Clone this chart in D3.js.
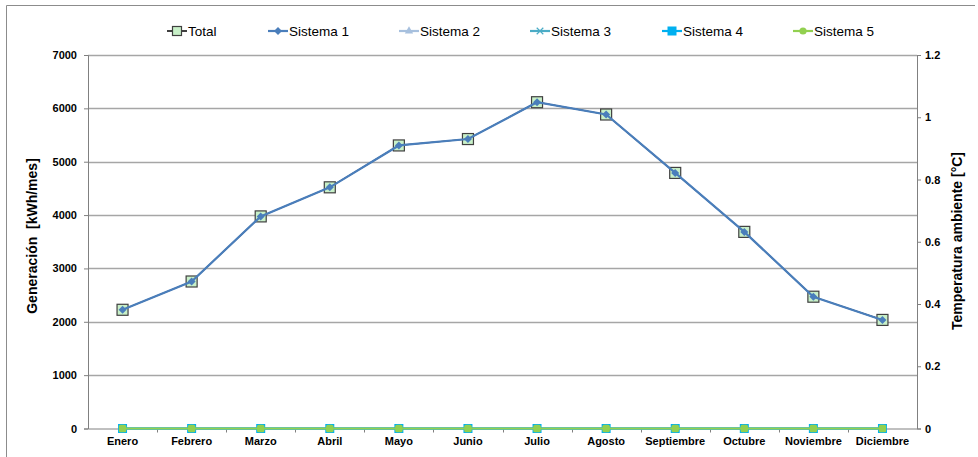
<!DOCTYPE html>
<html><head><meta charset="utf-8">
<script src="https://cdn.jsdelivr.net/npm/d3@7"></script>
<style>
body{margin:0;background:#fff;}
svg{display:block;font-family:"Liberation Sans",Arial,sans-serif;}
</style></head>
<body><svg id="c" width="978" height="457"></svg>
<script>
const months = ["Enero","Febrero","Marzo","Abril","Mayo","Junio","Julio","Agosto","Septiembre","Octubre","Noviembre","Diciembre"];
const total    = [2225,2755,3975,4520,5305,5425,6115,5885,4790,3685,2470,2035];
const sistema1 = [2225,2755,3975,4520,5305,5425,6115,5885,4790,3685,2470,2035];
const sistema2 = [0,0,0,0,0,0,0,0,0,0,0,0];
const sistema3 = [0,0,0,0,0,0,0,0,0,0,0,0];
const sistema4 = [0,0,0,0,0,0,0,0,0,0,0,0];
const sistema5 = [0,0,0,0,0,0,0,0,0,0,0,0];
const leftTicks = [0,1000,2000,3000,4000,5000,6000,7000];
const rightTicks = [0,0.2,0.4,0.6,0.8,1,1.2];
const seriesNames = ["Total","Sistema 1","Sistema 2","Sistema 3","Sistema 4","Sistema 5"];

const svg = d3.select("#c");
const L = 88, R = 917, T = 55, B = 428.5;
const x = d3.scaleBand().domain(months).range([L,R]);
const xc = d => x(d) + x.bandwidth()/2;
const y = d3.scaleLinear().domain([0,7000]).range([B,T]);
const y2 = d3.scaleLinear().domain([0,1.2]).range([B,T]);

// outer frame
svg.append("path").attr("d","M6.5,457V5.5H975").attr("fill","none").attr("stroke","#8c8c8c").attr("stroke-width",1);

// gridlines
svg.append("g").selectAll("line").data(leftTicks.filter(d=>d>0)).join("line")
  .attr("x1",L).attr("x2",R).attr("y1",d=>Math.round(y(d))+0.5).attr("y2",d=>Math.round(y(d))+0.5)
  .attr("stroke","#a6a6a6").attr("stroke-width",1.3);

// left axis
const gl = svg.append("g").attr("transform",`translate(${L},0)`)
  .call(d3.axisLeft(y).tickValues(leftTicks).tickSize(4).tickPadding(7).tickFormat(d3.format("d")));
gl.select(".domain").attr("stroke","#808080");
gl.selectAll(".tick line").attr("stroke","#808080");
gl.selectAll("text").attr("font-size","11px").attr("font-weight","bold").attr("fill","#000").attr("font-family","Liberation Sans, Arial, sans-serif");

// right axis
const gr = svg.append("g").attr("transform",`translate(${R},0)`)
  .call(d3.axisRight(y2).tickValues(rightTicks).tickSize(4).tickPadding(4).tickFormat(d=>String(d)));
gr.select(".domain").attr("stroke","#808080");
gr.selectAll(".tick line").attr("stroke","#808080");
gr.selectAll("text").attr("font-size","11px").attr("font-weight","bold").attr("fill","#000").attr("font-family","Liberation Sans, Arial, sans-serif");

// bottom axis
const gb = svg.append("g").attr("transform",`translate(0,${B})`)
  .call(d3.axisBottom(x).tickSize(0).tickPadding(9));
gb.select(".domain").attr("stroke","#808080");
gb.selectAll("text").attr("font-size","11px").attr("font-weight","bold").attr("fill","#000").attr("font-family","Liberation Sans, Arial, sans-serif");
svg.append("g").selectAll("line").data(months.slice(1)).join("line")
  .attr("x1",d=>Math.round(x(d))+0.5).attr("x2",d=>Math.round(x(d))+0.5).attr("y1",B).attr("y2",B+4)
  .attr("stroke","#808080");

// axis titles
svg.append("text").attr("transform","translate(37,236) rotate(-90)").attr("text-anchor","middle")
  .attr("font-size","14px").attr("font-weight","bold").attr("xml:space","preserve").text("Generación  [kWh/mes]");
svg.append("text").attr("transform","translate(962,241) rotate(-90)").attr("text-anchor","middle")
  .attr("font-size","14px").attr("font-weight","bold").text("Temperatura ambiente [°C]");

const line = d3.line().x((d,i)=>xc(months[i])).y(d=>y(d));

function marker(g, type, cx, cy, color){
  if(type==="square"){
    g.append("rect").attr("x",cx-5.5).attr("y",cy-5.5).attr("width",11).attr("height",11)
      .attr("fill","#c8f0c8").attr("stroke","#404040").attr("stroke-width",1.2);
  } else if(type==="diamond"){
    g.append("path").attr("d","M0,-4L4,0L0,4L-4,0Z").attr("transform",`translate(${cx},${cy})`).attr("fill",color);
  } else if(type==="triangle"){
    g.append("path").attr("d",d3.symbol(d3.symbolTriangle,30)()).attr("transform",`translate(${cx},${cy})`).attr("fill",color);
  } else if(type==="x"){
    g.append("path").attr("d",d3.symbol(d3.symbolX,30)()).attr("transform",`translate(${cx},${cy})`).attr("fill","none").attr("stroke",color).attr("stroke-width",1.2);
  } else if(type==="sq"){
    g.append("rect").attr("x",cx-4.5).attr("y",cy-4.5).attr("width",9).attr("height",9).attr("fill",color);
  } else if(type==="circle"){
    g.append("rect").attr("x",cx-3.7).attr("y",cy-3.7).attr("width",7.4).attr("height",7.4).attr("rx",1.5).attr("fill",color);
  }
}

const styles = [
  {data: total,    color:"#000000", w:1.2, m:"square"},
  {data: sistema1, color:"#4a7ebb", w:2.2, m:"diamond"},
  {data: sistema2, color:"#a7c0de", w:2.2, m:"triangle"},
  {data: sistema3, color:"#4bacc6", w:2.2, m:"x"},
  {data: sistema4, color:"#00b0f0", w:2.2, m:"sq"},
  {data: sistema5, color:"#92d050", w:2.2, m:"circle"}
];

const plot = svg.append("g");
styles.forEach(s=>{
  plot.append("path").datum(s.data).attr("d",line).attr("fill","none").attr("stroke",s.color).attr("stroke-width",s.w);
  const gm = plot.append("g");
  s.data.forEach((v,i)=>marker(gm, s.m, xc(months[i]), y(v), s.color));
});

// legend
const legX = [167, 268, 399, 530, 662, 793];
const lg = svg.append("g");
seriesNames.forEach((n,i)=>{
  const s = styles[i], cx = legX[i]+10, cy = 31;
  lg.append("line").attr("x1",legX[i]).attr("x2",legX[i]+20).attr("y1",cy).attr("y2",cy).attr("stroke",s.color).attr("stroke-width",s.m==="square"?1.5:2.2);
  if(s.m==="square"){
    lg.append("rect").attr("x",cx-4.5).attr("y",cy-4.5).attr("width",9).attr("height",9).attr("fill","#c8f0c8").attr("stroke","#404040").attr("stroke-width",1.2);
  } else if(s.m==="circle"){
    lg.append("circle").attr("cx",cx).attr("cy",cy).attr("r",3.6).attr("fill",s.color);
  } else marker(lg, s.m, cx, cy, s.color);
  lg.append("text").attr("x",legX[i]+21).attr("y",cy).attr("dy","0.35em").attr("font-size","13.5px").attr("fill","#000").text(n);
});
</script></body></html>
